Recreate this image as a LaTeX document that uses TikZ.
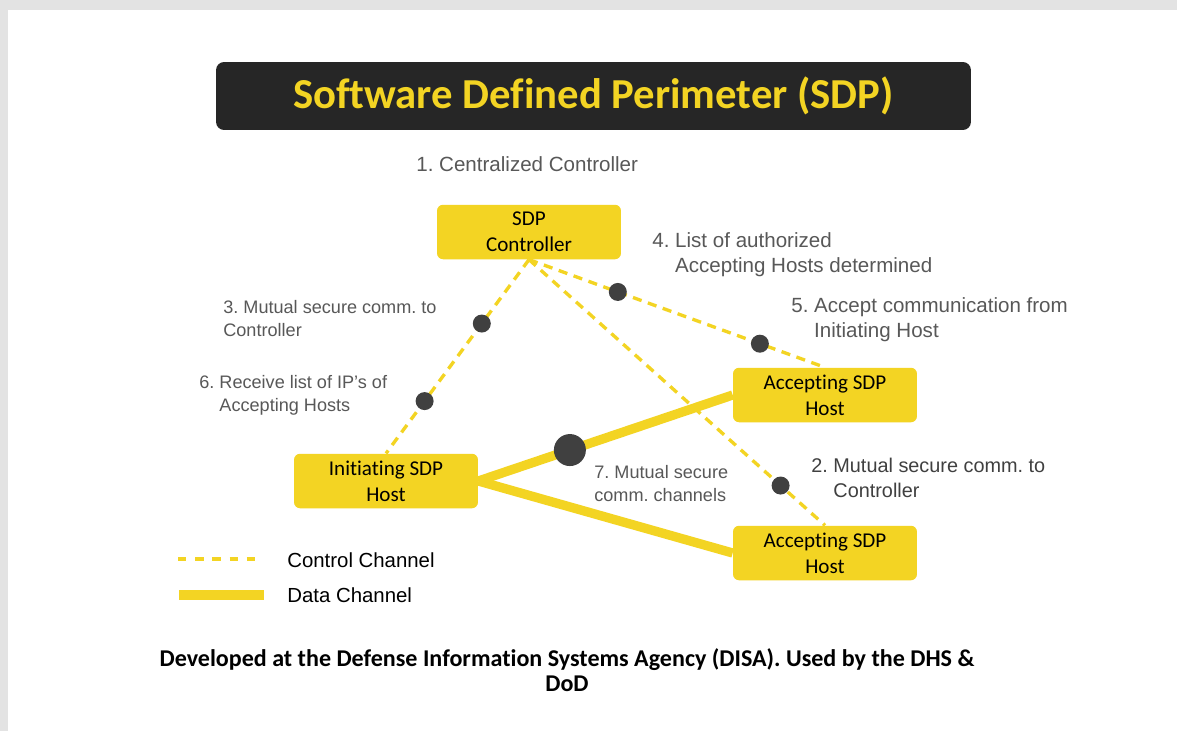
\documentclass[tikz,border=0pt]{standalone}
\usepackage{fontspec}
\setmainfont{Carlito}[Ligatures=NoCommon]
\newfontfamily\lblfont{Liberation Sans}
\usetikzlibrary{positioning}

\definecolor{sdpyellow}{RGB}{243,212,35}
\definecolor{sdpdark}{RGB}{38,38,38}
\definecolor{sdpgray}{RGB}{88,88,88}
\definecolor{dotgray}{RGB}{64,64,64}

\tikzset{
	titlebox/.style={fill=sdpdark, rounded corners=0.16cm, minimum width=15.1cm, minimum height=1.36cm, text=sdpyellow, font=\bfseries\fontsize{24.3}{28}\selectfont},
	hostbox/.style={fill=sdpyellow, rounded corners=0.12cm, minimum width=3.68cm, minimum height=1.09cm, inner sep=0pt, align=center, font=\fontsize{12}{14.8}\selectfont},
	ctrlline/.style={sdpyellow, line width=1.9pt, dash pattern=on 5.2pt off 3.8pt},
	dataline/.style={sdpyellow, line width=5.3pt},
	stepdot/.style={circle, fill=dotgray, inner sep=0pt, minimum size=0.36cm},
	biglbl/.style={anchor=west, inner sep=0pt, align=left, text=sdpgray, font=\lblfont\fontsize{11.7}{14.2}\selectfont},
	smalllbl/.style={anchor=west, inner sep=0pt, align=left, text=sdpgray, font=\lblfont\fontsize{10.3}{13.1}\selectfont},
	legendlbl/.style={anchor=west, inner sep=0pt, font=\lblfont\fontsize{11.6}{14}\selectfont},
}

\begin{document}
\frenchspacing
\begin{tikzpicture}[x=0.02cm, y=-0.02cm]
	% Page
	\useasboundingbox (0,0) rectangle (1177,731);
	\fill[gray!22] (0,0) rectangle (1177,731);
	\fill[white] (8,10) rectangle (1177,731);
	% Title
	\node[titlebox] (title) at (593.5,96) {Software Defined Perimeter (SDP)};
	% Hosts and controller
	\node[hostbox] (ctrl) at (529,232) {SDP\\Controller};
	\node[hostbox] (init) at (386,481) {Initiating SDP\\Host};
	\node[hostbox] (acc1) at (825,395) {Accepting SDP\\Host};
	\node[hostbox] (acc2) at (825,553) {Accepting SDP\\Host};
	% Control channels
	\draw[ctrlline] (ctrl.south) -- (init.north) node[stepdot, pos=0.33] (d3) {} node[stepdot, pos=0.73] (d6) {};
	\draw[ctrlline] (ctrl.south) -- (acc1.north) node[stepdot, pos=0.3] (d4) {} node[stepdot, pos=0.78] (d5) {};
	\draw[ctrlline] (ctrl.south) -- (acc2.north) node[stepdot, pos=0.85] (d2) {};
	% Data channels
	\draw[dataline] (init.east) -- (acc1.west) node[stepdot, pos=0.36, minimum size=0.64cm] (d7) {};
	\draw[dataline] (init.east) -- (acc2.west);
	% Step labels
	\node[biglbl] (l1) at (416,164) {1. Centralized Controller};
	\node[biglbl] (l4) at (652,255) {4. List of authorized\\\phantom{4.} Accepting Hosts determined};
	\node[smalllbl] (l3) at (223,319) {3. Mutual secure comm. to\\Controller};
	\node[biglbl] (l5) at (791,320) {5. Accept communication from\\\phantom{5.} Initiating Host};
	\node[smalllbl] (l6) at (199,395) {6. Receive list of IP’s of\\\phantom{6.} Accepting Hosts};
	\node[smalllbl] (l7) at (594,483.5) {7. Mutual secure\\comm. channels};
	\node[biglbl, text=dotgray, font=\lblfont\fontsize{11.3}{14.2}\selectfont] (l2) at (811,478) {2. Mutual secure comm. to\\\phantom{2.} Controller};
	% Legend
	\coordinate (cc1) at (178,559);
	\coordinate (cc2) at (264,559);
	\draw[ctrlline, dash pattern=on 4.8pt off 5pt] (cc1) -- (cc2);
	\coordinate (dc1) at (179,595);
	\coordinate (dc2) at (264,595);
	\draw[sdpyellow, line width=5.7pt] (dc1) -- (dc2);
	\node[legendlbl] (lcc) at (287,560) {Control Channel};
	\node[legendlbl] (ldc) at (287,595) {Data Channel};
	% Footer
	\node[align=center, font=\bfseries\fontsize{13.7}{14.2}\selectfont] (note) at (567,670) {Developed at the Defense Information Systems Agency (DISA). Used by the DHS \&\\DoD};
\end{tikzpicture}
\end{document}
